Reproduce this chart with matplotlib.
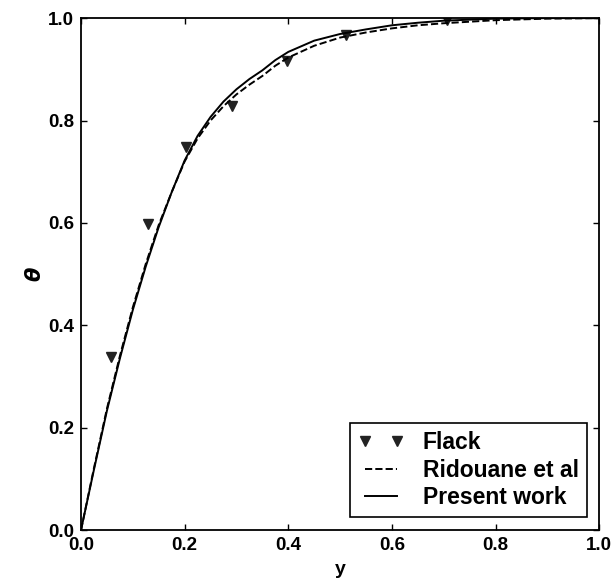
import matplotlib
matplotlib.use("Agg")
import matplotlib.pyplot as plt

plt.rcParams['font.family'] = ['Liberation Sans', 'DejaVu Sans']
plt.rcParams['mathtext.fontset'] = 'dejavusans'

# Flack experimental points
y_flack = [0.057, 0.129, 0.203, 0.292, 0.397, 0.511, 0.706]
t_flack = [0.338, 0.598, 0.749, 0.828, 0.917, 0.967, 0.996]

# Ridouane et al (dashed)
y_rid = [0, 0.025, 0.05, 0.075, 0.1, 0.125, 0.15, 0.175, 0.2, 0.225, 0.25, 0.275,
         0.3, 0.325, 0.35, 0.375, 0.4, 0.45, 0.5, 0.55, 0.6, 0.65, 0.7, 0.8, 0.9, 1.0]
t_rid = [0, 0.121, 0.237, 0.34, 0.435, 0.52, 0.596, 0.66, 0.72, 0.765, 0.80, 0.828,
         0.851, 0.87, 0.887, 0.907, 0.923, 0.946, 0.962, 0.972, 0.98, 0.986, 0.99, 0.996, 0.999, 1.0]

# present work (solid)
y_pw = [0, 0.025, 0.05, 0.075, 0.1, 0.125, 0.15, 0.175, 0.2, 0.225, 0.25, 0.275,
        0.3, 0.325, 0.35, 0.375, 0.4, 0.45, 0.5, 0.55, 0.6, 0.65, 0.7, 0.8, 0.9, 1.0]
t_pw = [0, 0.118, 0.233, 0.335, 0.43, 0.515, 0.592, 0.66, 0.722, 0.77, 0.807, 0.837,
        0.861, 0.881, 0.898, 0.918, 0.934, 0.956, 0.969, 0.978, 0.986, 0.991, 0.995, 0.999, 1.0, 1.0]

fig = plt.figure(figsize=(6.11, 5.83), dpi=100)
ax = fig.add_axes([0.1326, 0.0909, 0.848, 0.878])

ax.plot(y_flack, t_flack, linestyle='none', marker='v', markersize=7,
        color='#222222', label='Flack')
ax.plot(y_rid, t_rid, linestyle='--', color='black', linewidth=1.4, label='Ridouane et al')
ax.plot(y_pw, t_pw, linestyle='-', color='black', linewidth=1.4, label='Present work')

ax.set_xlim(0, 1)
ax.set_ylim(0, 1)
ax.set_xticks([0, 0.2, 0.4, 0.6, 0.8, 1.0])
ax.set_yticks([0, 0.2, 0.4, 0.6, 0.8, 1.0])
ax.tick_params(direction='in', top=True, right=True, length=4, width=1,
               labelsize=13.5, pad=5)
for lab in ax.get_xticklabels() + ax.get_yticklabels():
    lab.set_fontweight('bold')
for s in ax.spines.values():
    s.set_linewidth(1.3)

ax.set_xlabel('y', fontsize=14, fontweight='bold', labelpad=5)
ax.set_ylabel(r'$\boldsymbol{\theta}$', fontsize=15, labelpad=2)

leg = ax.legend(loc='lower right', numpoints=2, handlelength=2.0, fancybox=False,
                edgecolor='black', framealpha=1, borderaxespad=0.55,
                prop={'weight': 'bold', 'size': 16.5}, labelspacing=0.2,
                handletextpad=0.8, borderpad=0.35)
leg.get_frame().set_linewidth(1.2)

fig.savefig('out.png', dpi=100)
